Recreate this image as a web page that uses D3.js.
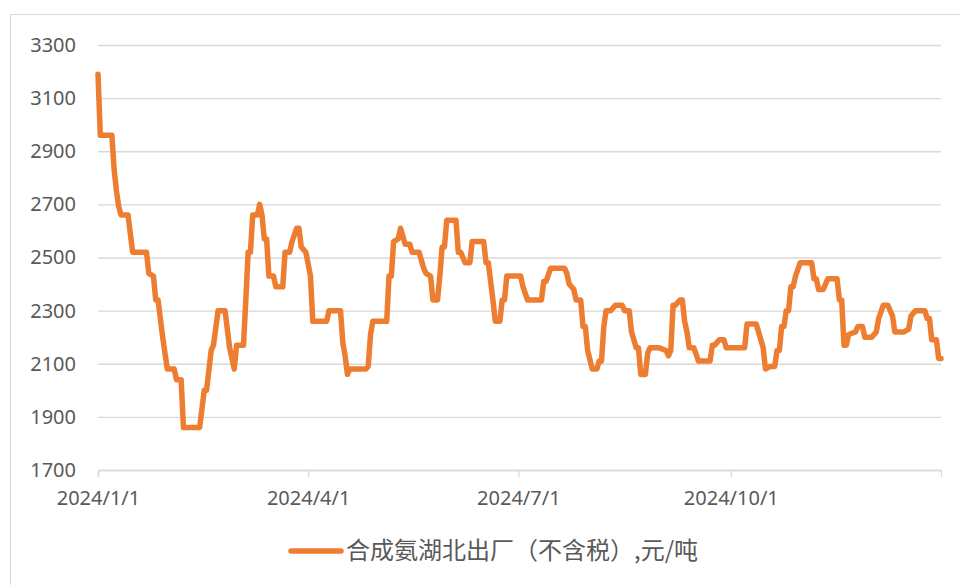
<!DOCTYPE html>
<html>
<head>
<meta charset="utf-8">
<script src="https://cdn.jsdelivr.net/npm/d3@7"></script>
<style>
    body { margin: 0; background: #fff; }
    #chart text { font-family: "Noto Sans", "Liberation Sans", sans-serif; fill: #595959; }
</style>
</head>
<body>
<div id="chart"></div>
<script>
// 合成氨湖北出厂（不含税）, 元/吨 — dates where the price changes and the price on that day
var dates = [
    "2024-01-01","2024-01-02","2024-01-07","2024-01-08","2024-01-09","2024-01-10","2024-01-11","2024-01-14","2024-01-15","2024-01-16",
    "2024-01-22","2024-01-23","2024-01-25","2024-01-26","2024-01-27","2024-01-29","2024-01-30","2024-01-31","2024-02-03","2024-02-04",
    "2024-02-06","2024-02-07","2024-02-14","2024-02-16","2024-02-17","2024-02-19","2024-02-20","2024-02-22","2024-02-25","2024-02-27",
    "2024-02-29","2024-03-01","2024-03-04","2024-03-05","2024-03-06","2024-03-07","2024-03-08","2024-03-10","2024-03-11","2024-03-12",
    "2024-03-13","2024-03-14","2024-03-15","2024-03-17","2024-03-18","2024-03-21","2024-03-22","2024-03-24","2024-03-25","2024-03-27",
    "2024-03-28","2024-03-29","2024-03-31","2024-04-02","2024-04-03","2024-04-09","2024-04-10","2024-04-15","2024-04-16","2024-04-17",
    "2024-04-18","2024-04-19","2024-04-26","2024-04-27","2024-04-28","2024-04-29","2024-05-05","2024-05-06","2024-05-07","2024-05-08",
    "2024-05-10","2024-05-11","2024-05-13","2024-05-15","2024-05-16","2024-05-19","2024-05-21","2024-05-22","2024-05-24","2024-05-25",
    "2024-05-27","2024-05-28","2024-05-29","2024-05-30","2024-05-31","2024-06-04","2024-06-05","2024-06-06","2024-06-08","2024-06-10",
    "2024-06-11","2024-06-16","2024-06-17","2024-06-18","2024-06-20","2024-06-21","2024-06-23","2024-06-24","2024-06-25","2024-06-26",
    "2024-07-02","2024-07-03","2024-07-05","2024-07-11","2024-07-12","2024-07-13","2024-07-15","2024-07-21","2024-07-22","2024-07-23",
    "2024-07-25","2024-07-26","2024-07-28","2024-07-29","2024-07-30","2024-07-31","2024-08-02","2024-08-04","2024-08-05","2024-08-06",
    "2024-08-07","2024-08-08","2024-08-10","2024-08-12","2024-08-15","2024-08-16","2024-08-18","2024-08-19","2024-08-21","2024-08-22",
    "2024-08-23","2024-08-25","2024-08-26","2024-08-27","2024-08-31","2024-09-03","2024-09-04","2024-09-05","2024-09-06","2024-09-07",
    "2024-09-09","2024-09-10","2024-09-11","2024-09-12","2024-09-13","2024-09-15","2024-09-17","2024-09-22","2024-09-23","2024-09-24",
    "2024-09-26","2024-09-28","2024-09-29","2024-10-07","2024-10-08","2024-10-12","2024-10-13","2024-10-15","2024-10-16","2024-10-18",
    "2024-10-20","2024-10-21","2024-10-22","2024-10-23","2024-10-24","2024-10-25","2024-10-26","2024-10-27","2024-10-28","2024-10-29",
    "2024-10-31","2024-11-05","2024-11-06","2024-11-07","2024-11-08","2024-11-10","2024-11-11","2024-11-12","2024-11-16","2024-11-17",
    "2024-11-18","2024-11-19","2024-11-20","2024-11-21","2024-11-24","2024-11-25","2024-11-27","2024-11-28","2024-12-01","2024-12-03",
    "2024-12-04","2024-12-06","2024-12-08","2024-12-10","2024-12-11","2024-12-15","2024-12-17","2024-12-18","2024-12-20","2024-12-24",
    "2024-12-25","2024-12-26","2024-12-27","2024-12-29","2024-12-30","2024-12-31"
];
var prices = [
    3190,2960,2960,2830,2750,2690,2660,2660,2590,2520,
    2520,2440,2430,2340,2340,2200,2140,2080,2080,2040,
    2040,1860,1860,2000,2000,2150,2170,2300,2300,2160,
    2080,2170,2170,2340,2520,2520,2660,2660,2700,2660,
    2570,2570,2430,2430,2390,2390,2520,2520,2560,2610,
    2610,2540,2520,2430,2260,2260,2300,2300,2180,2130,
    2060,2080,2080,2090,2210,2260,2260,2430,2430,2560,
    2570,2610,2550,2550,2520,2520,2460,2440,2430,2340,
    2340,2430,2540,2540,2640,2640,2520,2520,2480,2480,
    2560,2560,2480,2480,2340,2260,2260,2340,2340,2430,
    2430,2390,2340,2340,2410,2410,2460,2460,2440,2400,
    2380,2340,2340,2240,2240,2150,2080,2080,2110,2110,
    2240,2300,2300,2320,2320,2300,2300,2220,2160,2160,
    2060,2060,2140,2160,2160,2150,2130,2150,2320,2320,
    2340,2340,2260,2220,2160,2160,2110,2110,2170,2170,
    2190,2190,2160,2160,2250,2250,2220,2160,2080,2090,
    2090,2150,2150,2240,2240,2300,2300,2390,2390,2430,
    2480,2480,2420,2420,2380,2380,2400,2420,2420,2340,
    2340,2170,2170,2210,2220,2240,2240,2200,2200,2220,
    2270,2320,2320,2280,2220,2220,2230,2280,2300,2300,
    2270,2270,2190,2190,2120,2120
];
var seriesName = "合成氨湖北出厂（不含税）,元/吨";
var yTicks = [1700, 1900, 2100, 2300, 2500, 2700, 2900, 3100, 3300];
var xTickDates = ["2024-01-01", "2024-04-01", "2024-07-01", "2024-10-01"];
var xTickLabels = ["2024/1/1", "2024/4/1", "2024/7/1", "2024/10/1"];

var parseDate = d3.utcParse("%Y-%m-%d");
var data = dates.map((d, i) => ({ date: parseDate(d), value: prices[i] }));

var margin = { top: 45, right: 19, bottom: 115, left: 98 };
var width = 960 - margin.left - margin.right,
    height = 585 - margin.top - margin.bottom;

var root = d3.select("#chart")
    .append("svg")
    .attr("width", 960)
    .attr("height", 585);

// chart area border (only top and left edges are visible in the frame)
root.append("rect")
    .attr("x", 10.5)
    .attr("y", 14.5)
    .attr("width", 1000)
    .attr("height", 1000)
    .attr("fill", "none")
    .attr("stroke", "#d9d9d9");

var svg = root.append("g")
    .attr("transform", "translate(" + margin.left + "," + margin.top + ")");

var x = d3.scaleUtc()
    .domain([parseDate("2024-01-01"), parseDate("2024-12-31")])
    .range([0, width]);

var y = d3.scaleLinear()
    .domain([1700, 3300])
    .range([height, 0]);

// Y gridlines + labels
var yAxis = svg.append("g")
    .call(d3.axisLeft(y).tickValues(yTicks).tickSize(-width).tickPadding(22).tickFormat(d3.format("d")));
yAxis.select(".domain").remove();
yAxis.selectAll("line").attr("stroke", "#d9d9d9").attr("stroke-width", 1.3);
yAxis.selectAll("text").style("font-size", "20px");

// X axis
var xAxis = svg.append("g")
    .attr("transform", "translate(0," + height + ")")
    .call(d3.axisBottom(x)
        .tickValues(xTickDates.map(parseDate))
        .tickSize(7)
        .tickPadding(14)
        .tickFormat((d, i) => xTickLabels[i]));
xAxis.select(".domain").attr("stroke", "#d9d9d9").attr("stroke-width", 1.3);
xAxis.selectAll("line").attr("stroke", "#d9d9d9").attr("stroke-width", 1.3);
xAxis.selectAll("text").style("font-size", "20px");

// the series
var line = d3.line()
    .x(d => x(d.date))
    .y(d => y(d.value));

svg.append("path")
    .datum(data)
    .attr("d", line)
    .attr("fill", "none")
    .attr("stroke", "#ED7D31")
    .attr("stroke-width", 5.5)
    .attr("stroke-linejoin", "round")
    .attr("stroke-linecap", "round");

// legend
var legend = root.append("g").attr("transform", "translate(0,551)");
legend.append("line")
    .attr("x1", 291).attr("x2", 341)
    .attr("y1", 0).attr("y2", 0)
    .attr("stroke", "#ED7D31")
    .attr("stroke-width", 5.5)
    .attr("stroke-linecap", "round");
legend.append("text")
    .attr("x", 346)
    .attr("y", 0)
    .attr("dy", "0.35em")
    .style("font-family", "'Noto Sans CJK SC', sans-serif")
    .style("font-size", "24px")
    .text(seriesName);
</script>
</body>
</html>
